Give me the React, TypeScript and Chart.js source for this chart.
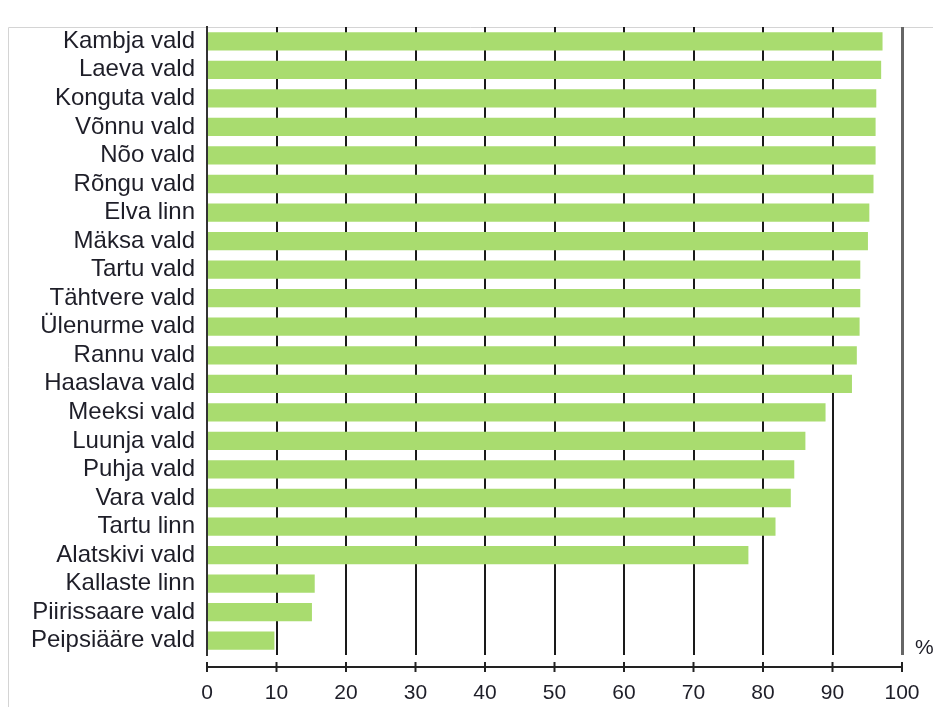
import React, { useEffect, useRef } from "react";
import { Chart, registerables } from "chart.js";

Chart.register(...registerables);

const categories = [
  "Kambja vald", "Laeva vald", "Konguta vald", "Võnnu vald", "Nõo vald", "Rõngu vald",
  "Elva linn", "Mäksa vald", "Tartu vald", "Tähtvere vald", "Ülenurme vald", "Rannu vald",
  "Haaslava vald", "Meeksi vald", "Luunja vald", "Puhja vald", "Vara vald", "Tartu linn",
  "Alatskivi vald", "Kallaste linn", "Piirissaare vald", "Peipsiääre vald",
];
const values = [
  97.2, 97.0, 96.3, 96.2, 96.2, 95.9,
  95.3, 95.1, 94.0, 94.0, 93.9, 93.5,
  92.8, 89.0, 86.1, 84.5, 84.0, 81.8,
  77.9, 15.5, 15.1, 9.7,
];
const xTicks = [0, 10, 20, 30, 40, 50, 60, 70, 80, 90, 100];
const unitLabel = "%";

const FONT = "'Liberation Sans', Arial, sans-serif";

const decorPlugin = {
  id: "decor",
  beforeDraw(chart: any) {
    const ctx = chart.ctx;
    ctx.save();
    ctx.strokeStyle = "#d4d4d4";
    ctx.lineWidth = 1;
    ctx.beginPath();
    ctx.moveTo(8.5, 707);
    ctx.lineTo(8.5, 27.5);
    ctx.lineTo(933, 27.5);
    ctx.stroke();
    ctx.restore();
  },
  afterDraw(chart: any) {
    const ctx = chart.ctx;
    const xs = chart.scales.x;
    const area = chart.chartArea;
    const yAxis = area.bottom + 12;
    ctx.save();
    ctx.strokeStyle = "#222";
    ctx.lineWidth = 2;
    ctx.beginPath();
    ctx.moveTo(xs.getPixelForValue(xTicks[0]), yAxis);
    ctx.lineTo(xs.getPixelForValue(xTicks[xTicks.length - 1]), yAxis);
    ctx.stroke();
    xTicks.forEach((t) => {
      const px = xs.getPixelForValue(t);
      ctx.beginPath();
      ctx.moveTo(px, yAxis - 5);
      ctx.lineTo(px, yAxis + 5);
      ctx.stroke();
    });
    ctx.fillStyle = "#1e1e28";
    ctx.font = `21px ${FONT}`;
    ctx.textAlign = "left";
    ctx.textBaseline = "middle";
    ctx.fillText(unitLabel, area.right + 13, area.bottom - 7);
    ctx.restore();
  },
};

export default function App() {
  const ref = useRef<HTMLCanvasElement | null>(null);
  useEffect(() => {
    if (!ref.current) return;
    const chart = new Chart(ref.current, {
      type: "bar",
      data: {
        labels: categories,
        datasets: [
          {
            data: values,
            backgroundColor: "#a9dc6f",
            borderWidth: 0,
            barPercentage: 0.64,
            categoryPercentage: 1,
          },
        ],
      },
      options: {
        indexAxis: "y",
        animation: false,
        responsive: false,
        maintainAspectRatio: false,
        layout: { padding: { top: 27, right: 31, left: 0, bottom: 0 } },
        plugins: { legend: { display: false }, tooltip: { enabled: false } },
        scales: {
          x: {
            type: "linear",
            min: 0,
            max: 100,
            afterBuildTicks: (s: any) => {
              s.ticks = xTicks.map((v) => ({ value: v }));
            },
            afterFit: (s: any) => {
              s.height = 52;
              s.paddingLeft = 0;
              s.paddingRight = 0;
            },
            grid: {
              drawTicks: false,
              color: (c: any) => (c.tick && c.tick.value === 100 ? "#666" : "#1a1a1a"),
              lineWidth: (c: any) => (c.tick && c.tick.value === 100 ? 3 : 2),
            },
            border: { display: false },
            ticks: {
              padding: 26,
              color: "#1e1e28",
              font: { family: FONT, size: 21 },
            },
          },
          y: {
            afterFit: (s: any) => {
              s.width = 207;
              s.paddingTop = 0;
              s.paddingBottom = 0;
            },
            grid: { display: false, drawTicks: false },
            border: { display: true, color: "#333", width: 2 },
            ticks: {
              padding: 12,
              color: "#1e1e28",
              font: { family: FONT, size: 24 },
              autoSkip: false,
            },
          },
        },
      },
      plugins: [decorPlugin],
    });
    return () => chart.destroy();
  }, []);
  return (
    <div style={{ position: "absolute", left: 0, top: 0, width: 933, height: 707, background: "#fff" }}>
      <canvas ref={ref} width={933} height={707} style={{ width: 933, height: 707, display: "block" }} />
    </div>
  );
}
